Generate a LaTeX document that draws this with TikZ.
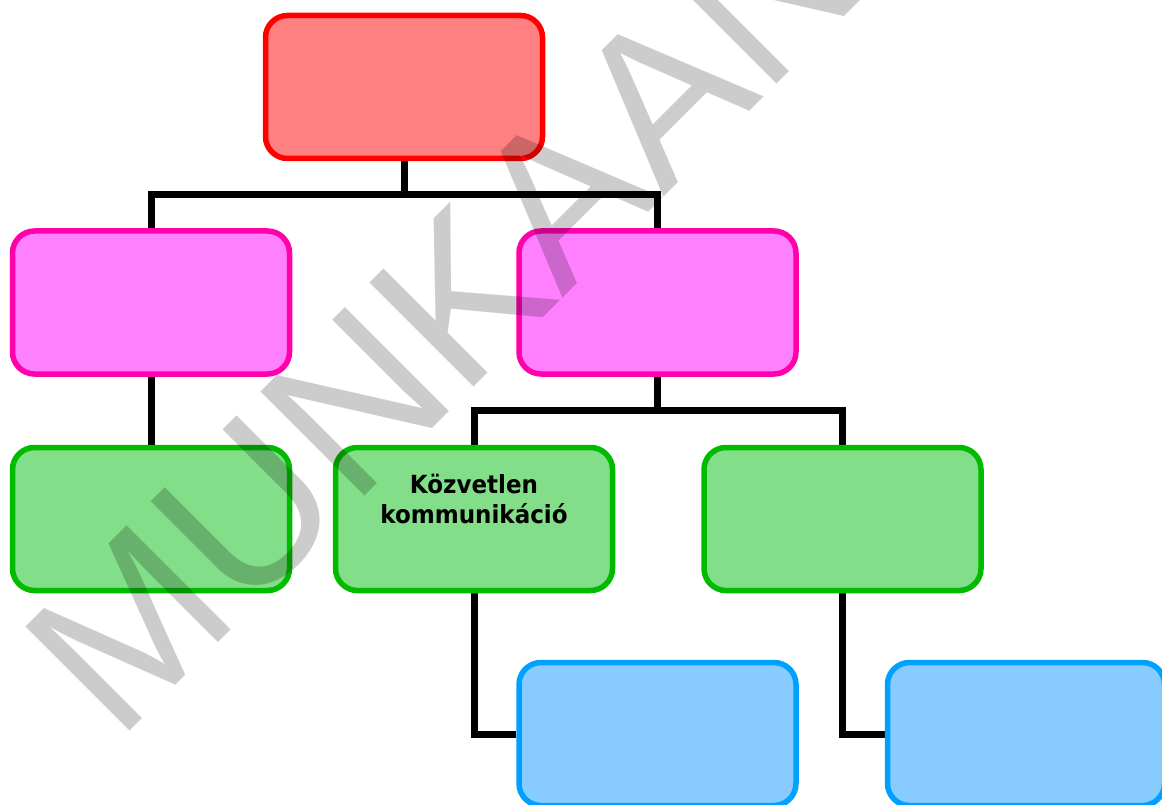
\documentclass[tikz,border=0pt]{standalone}
\usepackage{fontspec}
\newfontfamily\labelfont{DejaVu Sans}[FakeStretch=0.92]
\newfontfamily\wmfont{Liberation Sans}
\definecolor{redline}{RGB}{255,0,0}
\definecolor{redfill}{RGB}{255,128,128}
\definecolor{pinkline}{RGB}{255,0,170}
\definecolor{pinkfill}{RGB}{255,128,255}
\definecolor{greenline}{RGB}{0,187,0}
\definecolor{greenfill}{RGB}{130,222,136}
\definecolor{blueline}{RGB}{0,160,255}
\definecolor{bluefill}{RGB}{136,204,255}
\tikzset{
  box/.style={rectangle, rounded corners=22pt, line width=5.5pt,
    minimum width=277pt, minimum height=143pt, inner sep=0pt},
  rootbox/.style={box, draw=redline, fill=redfill},
  pinkbox/.style={box, draw=pinkline, fill=pinkfill},
  greenbox/.style={box, draw=greenline, fill=greenfill},
  bluebox/.style={box, draw=blueline, fill=bluefill},
  conn/.style={draw=black, line width=7pt, line join=miter},
  boxtext/.style={font=\labelfont\bfseries\fontsize{25}{30}\selectfont,
    align=center, inner sep=0pt},
  wmtext/.style={font=\wmfont\fontsize{214}{214}\selectfont,
    text=black, text opacity=0.2, inner sep=0pt}
}
\begin{document}
\begin{tikzpicture}[x=1pt,y=-1pt]
\useasboundingbox (0,0) rectangle (1162,805);
\clip (0,0) rectangle (1162,805);
% node positions
\coordinate (pRoot) at (404,87);
\coordinate (pML) at (151,302.5);
\coordinate (pMR) at (657.5,302.5);
\coordinate (pGL) at (151,519);
\coordinate (pGM) at (474,519);
\coordinate (pGR) at (842.5,519);
\coordinate (pBL) at (657.5,734);
\coordinate (pBR) at (1026,734);
\coordinate (busA) at (404,195);
\coordinate (busB) at (657.5,410.5);
% connector anchors
\path (pRoot) node[box] (root0) {};
\path (pML) node[box] (ml0) {};
\path (pMR) node[box] (mr0) {};
\path (pGL) node[box] (gl0) {};
\path (pGM) node[box] (gm0) {};
\path (pGR) node[box] (gr0) {};
\path (pBL) node[box] (bl0) {};
\path (pBR) node[box] (br0) {};
\draw[conn] (root0.south) -- (busA);
\draw[conn] (ml0.north) |- (busA);
\draw[conn] (mr0.north) |- (busA);
\draw[conn] (ml0.south) -- (gl0.north);
\draw[conn] (mr0.south) -- (busB);
\draw[conn] (gm0.north) |- (busB);
\draw[conn] (gr0.north) |- (busB);
\draw[conn] (gm0.south) |- (bl0.west);
\draw[conn] (gr0.south) |- (br0.west);
% boxes
\node[rootbox] (root) at (pRoot) {};
\node[pinkbox] (ml) at (pML) {};
\node[pinkbox] (mr) at (pMR) {};
\node[greenbox] (gl) at (pGL) {};
\node[greenbox] (gm) at (pGM) {};
\node[greenbox] (gr) at (pGR) {};
\node[bluebox] (bl) at (pBL) {};
\node[bluebox] (br) at (pBR) {};
\node[boxtext, anchor=base] (gmlabel) at (474,523) {Közvetlen\\kommunikáció};
% watermark
\node[wmtext, rotate=45, anchor=base west] (wm) at (117,744) {MUNKAANYAG};
\end{tikzpicture}
\end{document}
